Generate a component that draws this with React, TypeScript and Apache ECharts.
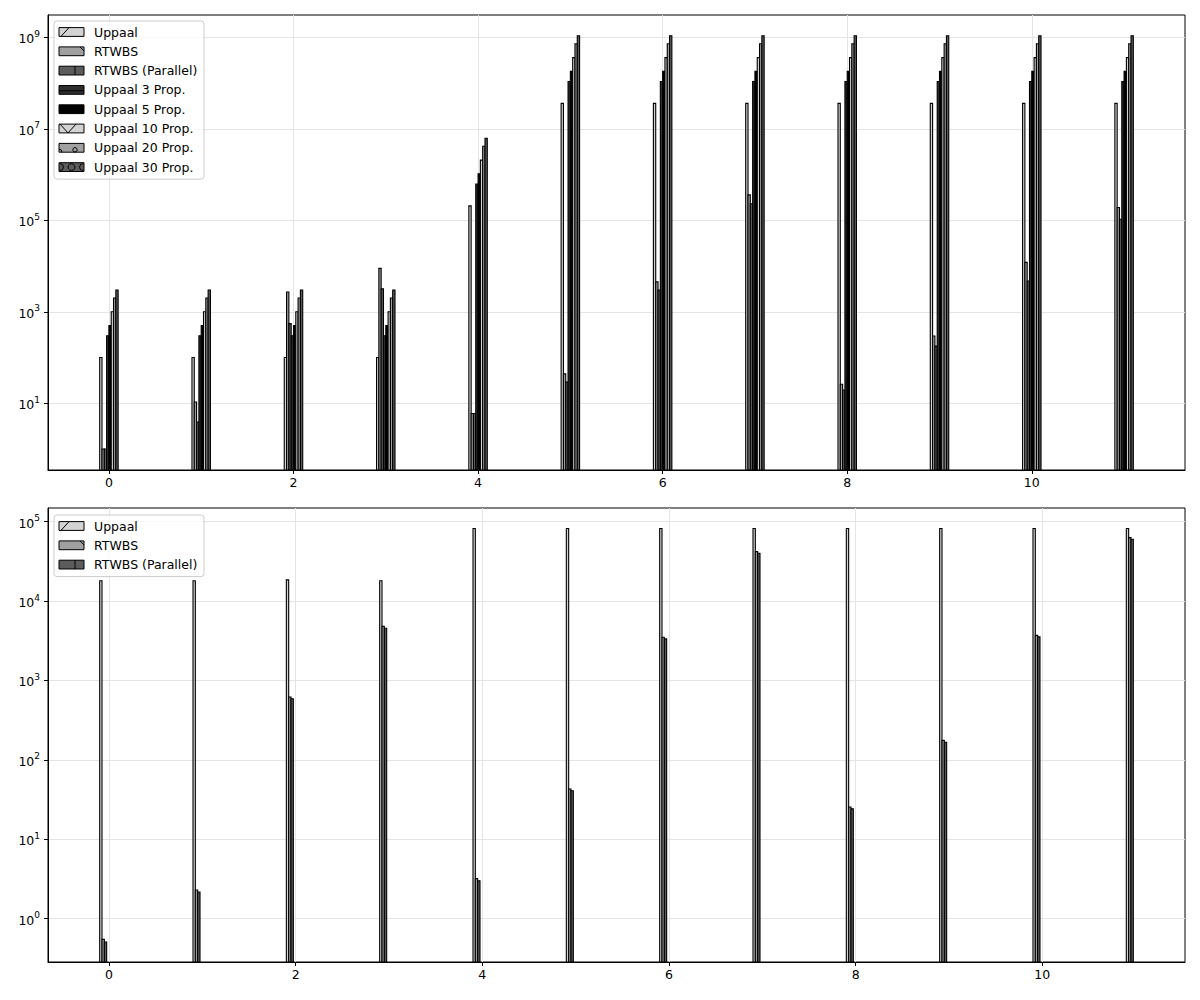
import React, { useEffect, useRef } from "react";
import * as echarts from "echarts";

// ---------- data ----------
const groupIndex = [0, 1, 2, 3, 4, 5, 6, 7, 8, 9, 10, 11];
const xTickValues = [0, 2, 4, 6, 8, 10];
const topYTickExponents = [1, 3, 5, 7, 9];
const bottomYTickExponents = [0, 1, 2, 3, 4, 5];

const topNames = [
  "Uppaal",
  "RTWBS",
  "RTWBS (Parallel)",
  "Uppaal 3 Prop.",
  "Uppaal 5 Prop.",
  "Uppaal 10 Prop.",
  "Uppaal 20 Prop.",
  "Uppaal 30 Prop.",
];
const bottomNames = ["Uppaal", "RTWBS", "RTWBS (Parallel)"];

const uppaalTop = [100, 100, 100, 100, 2.07e5, 3.6e7, 3.6e7, 3.6e7, 3.6e7, 3.6e7, 3.6e7, 3.6e7];
const rtwbsTop = [1, 10.7, 2700, 8900, 6, 44, 4500, 3.6e5, 26, 295, 1.2e4, 1.9e5];
const rtwbsParallelTop = [1, 3.9, 550, 3200, 6, 29, 3000, 2.3e5, 19.5, 178, 4700, 1.05e5];
const uppaal3Top = [300, 300, 300, 300, 6.2e5, 1.08e8, 1.08e8, 1.08e8, 1.08e8, 1.08e8, 1.08e8, 1.08e8];
const uppaal5Top = [500, 500, 500, 500, 1.04e6, 1.8e8, 1.8e8, 1.8e8, 1.8e8, 1.8e8, 1.8e8, 1.8e8];
const uppaal10Top = [1000, 1000, 1000, 1000, 2.07e6, 3.6e8, 3.6e8, 3.6e8, 3.6e8, 3.6e8, 3.6e8, 3.6e8];
const uppaal20Top = [2000, 2000, 2000, 2000, 4.14e6, 7.2e8, 7.2e8, 7.2e8, 7.2e8, 7.2e8, 7.2e8, 7.2e8];
const uppaal30Top = [3000, 3000, 3000, 3000, 6.2e6, 1.08e9, 1.08e9, 1.08e9, 1.08e9, 1.08e9, 1.08e9, 1.08e9];

const uppaalBottom = [1.8e4, 1.8e4, 1.85e4, 1.8e4, 8.2e4, 8.2e4, 8.2e4, 8.2e4, 8.2e4, 8.2e4, 8.2e4, 8.2e4];
const rtwbsBottom = [0.55, 2.3, 620, 4800, 3.2, 43, 3500, 4.2e4, 25.5, 176, 3700, 6.3e4];
const rtwbsParallelBottom = [0.51, 2.17, 588, 4550, 3.0, 40.8, 3340, 4.0e4, 24.2, 167, 3540, 6.0e4];

const topValues = [uppaalTop, rtwbsTop, rtwbsParallelTop, uppaal3Top, uppaal5Top, uppaal10Top, uppaal20Top, uppaal30Top];
const bottomValues = [uppaalBottom, rtwbsBottom, rtwbsParallelBottom];

// ---------- styles ----------
const seriesStyles = [
  { color: "#d3d3d3", hatch: "/" },
  { color: "#a0a0a0", hatch: "\\" },
  { color: "#5c5c5c", hatch: "|" },
  { color: "#2e2e2e", hatch: "-" },
  { color: "#000000", hatch: "+" },
  { color: "#d3d3d3", hatch: "x" },
  { color: "#a0a0a0", hatch: "o" },
  { color: "#5c5c5c", hatch: "O" },
];

const BAR_W = 0.025;
const GROUP_START = -0.1;
const FONT = "DejaVu Sans";
const FS = 12.5;

const TOP_Y = [-0.458, 9.487];
const BOT_Y = [-0.545, 5.172];
const TOP_X = [-0.66, 11.66];
const BOT_X = [-0.65375, 11.52875];

function barSeries(name: string, values: number[], k: number, axisIndex: number, yMin: number, color: string) {
  return {
    type: "custom",
    name,
    xAxisIndex: axisIndex,
    yAxisIndex: axisIndex,
    clip: true,
    encode: { x: 0, y: 1 },
    data: values.map((v, i) => [groupIndex[i] + GROUP_START + BAR_W * k + BAR_W / 2, Math.log10(v)]),
    renderItem: (params: any, api: any) => {
      const x = api.value(0);
      const y = api.value(1);
      const tl = api.coord([x - BAR_W / 2, y]);
      const br = api.coord([x + BAR_W / 2, yMin]);
      return {
        type: "rect",
        shape: { x: tl[0], y: tl[1], width: br[0] - tl[0], height: br[1] - tl[1] },
        style: { fill: color, stroke: "#000", lineWidth: 1.1 },
      };
    },
  };
}

function xAxis(gridIndex: number, ext: number[]) {
  return {
    type: "value",
    gridIndex,
    position: "bottom",
    min: ext[0],
    max: ext[1],
    axisLine: { show: true, onZero: false, lineStyle: { color: "#000", width: 1 } },
    axisTick: { show: true, inside: false, length: 4, lineStyle: { color: "#000", width: 1 }, customValues: xTickValues },
    axisLabel: {
      customValues: xTickValues,
      color: "#000",
      fontFamily: FONT,
      fontSize: FS,
      margin: 6,
      formatter: (v: number) => String(Math.round(v)),
    },
    splitLine: { show: true, lineStyle: { color: "#e4e4e4", width: 1 } },
  };
}

function yAxis(gridIndex: number, ext: number[], ticks: number[]) {
  return {
    type: "value",
    gridIndex,
    position: "left",
    min: ext[0],
    max: ext[1],
    axisLine: { show: true, onZero: false, lineStyle: { color: "#000", width: 1 } },
    axisTick: { show: true, inside: false, length: 4, lineStyle: { color: "#000", width: 1 }, customValues: ticks },
    axisLabel: {
      customValues: ticks,
      color: "#000",
      margin: 8,
      formatter: (v: number) => `{b|10}{s|${Math.round(v)}}`,
      rich: {
        b: { fontFamily: FONT, fontSize: FS, color: "#000", lineHeight: 16, verticalAlign: "bottom" },
        s: { fontFamily: FONT, fontSize: 9, color: "#000", lineHeight: 16, verticalAlign: "top" },
      },
    },
    splitLine: { show: true, lineStyle: { color: "#e4e4e4", width: 1 } },
  };
}

function legendGraphics(boxX: number, boxY: number, names: string[]) {
  const els: any[] = [];
  const step = 19.3;
  const boxH = 11 + (names.length - 1) * step + 12;
  els.push({
    type: "rect",
    shape: { x: boxX, y: boxY, width: 150, height: boxH, r: 3 },
    style: { fill: "rgba(255,255,255,0.8)", stroke: "#cccccc", lineWidth: 1 },
    z: 100,
  });
  names.forEach((n, i) => {
    const cy = boxY + 11 + i * step;
    const pw = 25;
    const ph = 8.8;
    const px = boxX + 5;
    const py = cy - ph / 2;
    const st = seriesStyles[i];
    els.push({
      type: "rect",
      shape: { x: px, y: py, width: pw, height: ph },
      style: { fill: st.color, stroke: "#000", lineWidth: 1 },
      z: 101,
    });
    const ls = { stroke: "#000", lineWidth: 1, fill: "none" };
    if (st.hatch === "/") {
      els.push({ type: "line", shape: { x1: px + 2, y1: py + ph, x2: px + 10, y2: py }, style: ls, z: 102 });
    } else if (st.hatch === "\\") {
      els.push({ type: "line", shape: { x1: px + pw - 4, y1: py, x2: px + pw, y2: py + 4 }, style: ls, z: 102 });
    } else if (st.hatch === "|") {
      els.push({ type: "line", shape: { x1: px + 16, y1: py, x2: px + 16, y2: py + ph }, style: ls, z: 102 });
    } else if (st.hatch === "-") {
      els.push({ type: "line", shape: { x1: px, y1: py + ph * 0.6, x2: px + pw, y2: py + ph * 0.6 }, style: ls, z: 102 });
    } else if (st.hatch === "x") {
      els.push({
        type: "polyline",
        shape: { points: [[px + 1, py], [px + 9, py + ph], [px + 17, py]] },
        style: ls,
        z: 102,
      });
    } else if (st.hatch === "o") {
      els.push({ type: "circle", shape: { cx: px + 16, cy: py + ph - 2.4, r: 2.2 }, style: ls, z: 102 });
      els.push({
        type: "arc",
        shape: { cx: px, cy: py + ph, r: 3, startAngle: -Math.PI / 2, endAngle: 0, clockwise: true },
        style: ls,
        z: 102,
      });
    } else if (st.hatch === "O") {
      els.push({ type: "circle", shape: { cx: px + 12.5, cy: py + ph / 2, r: 3.4 }, style: ls, z: 102 });
      els.push({
        type: "arc",
        shape: { cx: px + 1, cy: py + ph / 2, r: 3.4, startAngle: -Math.PI / 2, endAngle: Math.PI / 2, clockwise: true },
        style: ls,
        z: 102,
      });
      els.push({
        type: "arc",
        shape: { cx: px + pw - 1, cy: py + ph / 2, r: 3.4, startAngle: Math.PI / 2, endAngle: (3 * Math.PI) / 2, clockwise: true },
        style: ls,
        z: 102,
      });
    }
    els.push({
      type: "text",
      x: boxX + 40,
      y: cy,
      style: { text: n, fill: "#000", fontFamily: FONT, fontSize: FS, verticalAlign: "middle", align: "left" },
      z: 102,
    });
  });
  return els;
}

export default function App() {
  const ref = useRef<HTMLDivElement>(null);
  useEffect(() => {
    document.body.style.margin = "0";
    if (!ref.current) return;
    const chart = echarts.init(ref.current, undefined, { renderer: "svg" });
    const series: any[] = [];
    topValues.forEach((vals, k) => {
      series.push(barSeries(topNames[k], vals, k, 0, TOP_Y[0], seriesStyles[k].color));
    });
    bottomValues.forEach((vals, k) => {
      series.push(barSeries(bottomNames[k], vals, k, 1, BOT_Y[0], seriesStyles[k].color));
    });
    chart.setOption({
      animation: false,
      backgroundColor: "#ffffff",
      grid: [
        { left: 48, right: 15, top: 15, height: 455, show: true, borderColor: "#000", borderWidth: 1, backgroundColor: "transparent" },
        { left: 48, right: 15, top: 508, height: 454, show: true, borderColor: "#000", borderWidth: 1, backgroundColor: "transparent" },
      ],
      xAxis: [xAxis(0, TOP_X), xAxis(1, BOT_X)],
      yAxis: [yAxis(0, TOP_Y, topYTickExponents), yAxis(1, BOT_Y, bottomYTickExponents)],
      series,
      graphic: [...legendGraphics(54, 21, topNames), ...legendGraphics(54, 515, bottomNames)],
    });
    return () => chart.dispose();
  }, []);
  return <div ref={ref} style={{ width: 1200, height: 1000 }} />;
}
